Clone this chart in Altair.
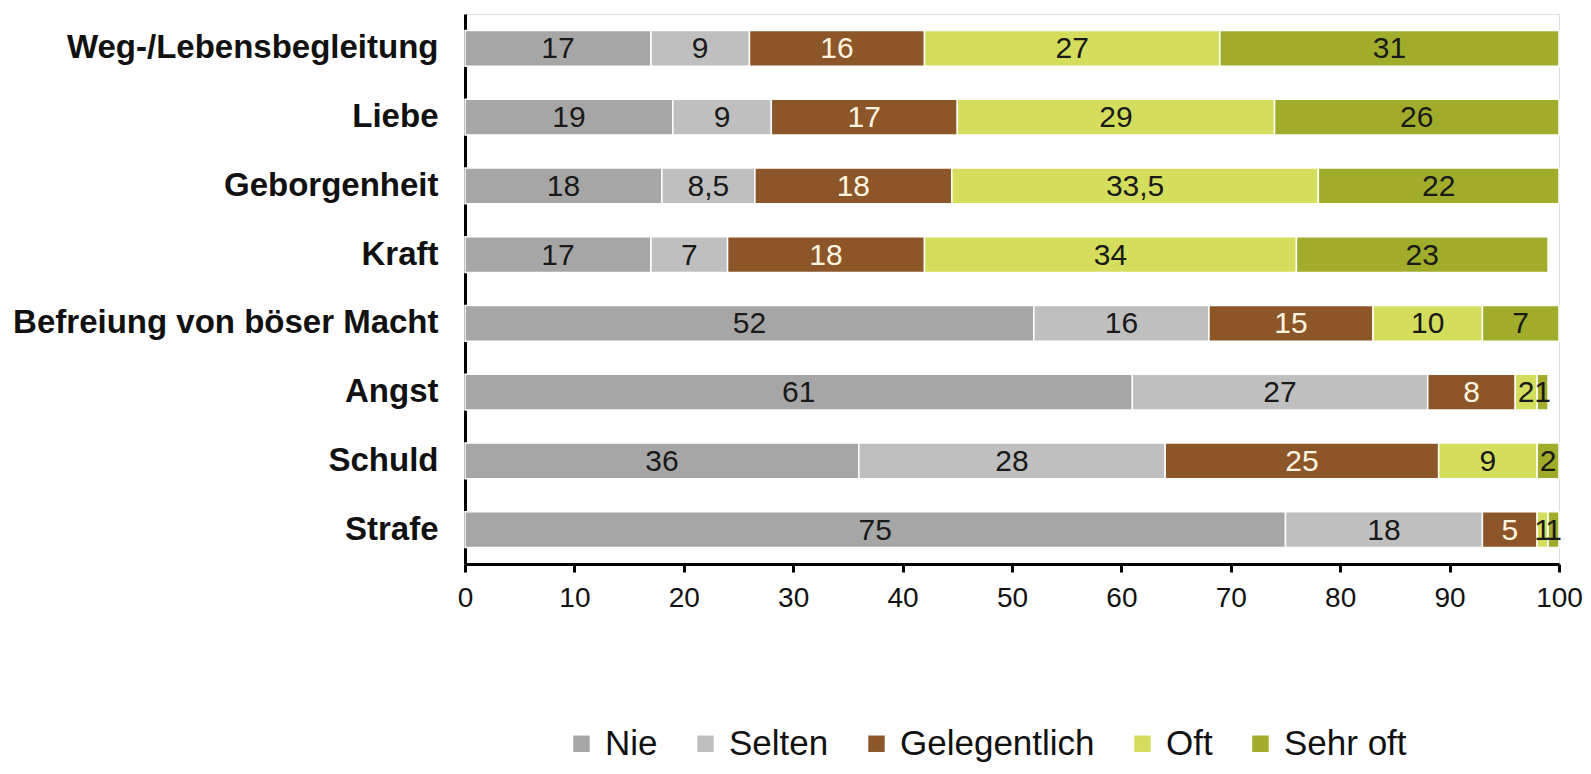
import altair as alt
import pandas as pd

categories = ["Weg-/Lebensbegleitung", "Liebe", "Geborgenheit", "Kraft",
              "Befreiung von böser Macht", "Angst", "Schuld", "Strafe"]
series = ["Nie", "Selten", "Gelegentlich", "Oft", "Sehr oft"]
nie = [17, 19, 18, 17, 52, 61, 36, 75]
selten = [9, 9, 8.5, 7, 16, 27, 28, 18]
gelegentlich = [16, 17, 18, 18, 15, 8, 25, 5]
oft = [27, 29, 33.5, 34, 10, 2, 9, 1]
sehr_oft = [31, 26, 22, 23, 7, 1, 2, 1]
colors = ["#A6A6A6", "#BFBFBF", "#8C5628", "#D4DE5C", "#A1AC2B"]
label_colors = ["#1A1A1A", "#1A1A1A", "#FFF4E0", "#1A1A1A", "#1A1A1A"]
x_ticks = [0, 10, 20, 30, 40, 50, 60, 70, 80, 90, 100]

rows = []
for s_idx, (s, vals) in enumerate(zip(series, [nie, selten, gelegentlich, oft, sehr_oft])):
    for c, v in zip(categories, vals):
        lab = (str(int(v)) if float(v).is_integer() else str(v).replace(".", ","))
        rows.append({"cat": c, "series": s, "order": s_idx, "value": v, "label": lab,
                     "lcolor": label_colors[s_idx]})
df = pd.DataFrame(rows)

FONT = "Liberation Sans"

base = alt.Chart(df).transform_stack(
    stack="value", groupby=["cat"], as_=["x0", "x1"],
    sort=[alt.SortField("order", order="ascending")]
).transform_calculate(mid="(datum.x0 + datum.x1) / 2")

y_enc = alt.Y("cat:N", sort=categories,
              scale=alt.Scale(paddingInner=0.48, paddingOuter=0.24),
              axis=alt.Axis(title=None, ticks=False, domainColor="#000000", domainWidth=3,
                            labelFont=FONT, labelFontSize=33, labelFontWeight="bold",
                            labelColor="#111111", labelPadding=27, labelLimit=600))

bars = base.mark_bar(stroke="white", strokeWidth=1.5).encode(
    x=alt.X("x0:Q", scale=alt.Scale(domain=[0, 100], nice=False),
            axis=alt.Axis(title=None, values=x_ticks, grid=False, domainColor="#000000",
                          domainWidth=3, tickColor="#000000", tickWidth=3, tickSize=8,
                          labelFont=FONT, labelFontSize=28, labelColor="#111111",
                          labelPadding=12, labelFlush=False)),
    x2="x1:Q",
    y=y_enc,
    color=alt.Color("series:N", sort=series,
                    scale=alt.Scale(domain=series, range=colors),
                    legend=alt.Legend(title=None, orient="none", direction="horizontal",
                                      legendX=99, legendY=712, symbolType="square",
                                      symbolSize=270, symbolStrokeWidth=0,
                                      labelFont=FONT, labelFontSize=35, labelColor="#111111",
                                      labelLimit=400, columnPadding=30, labelOffset=6)),
    order=alt.Order("order:Q"),
)

texts = base.mark_text(font=FONT, fontSize=30, baseline="middle", align="center", dy=1).encode(
    x=alt.X("mid:Q"),
    y=alt.Y("cat:N", sort=categories),
    text="label:N",
    color=alt.Color("lcolor:N", scale=None, legend=None),
)

chart = alt.layer(bars, texts).properties(
    width=1094, height=550,
    autosize=alt.AutoSizeParams(type="none"),
    padding={"left": 457, "top": 6, "right": 24, "bottom": 200},
).configure_view(stroke=None).configure(background="white")

chart.save("out.html", embed_options={"renderer": "svg", "actions": False})
